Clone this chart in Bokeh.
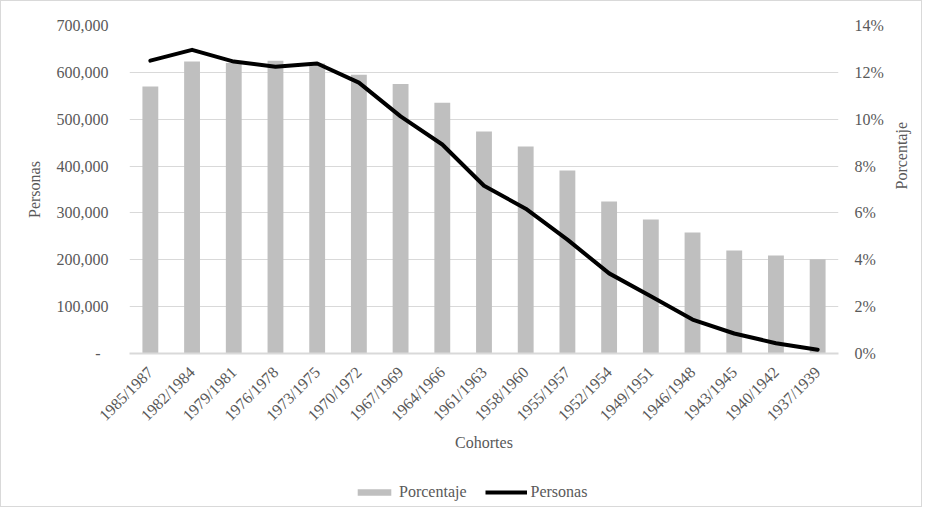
import math
from bokeh.plotting import figure
from bokeh.layouts import column
from bokeh.models import (FactorRange, Range1d, LinearAxis, FixedTicker,
                          NumeralTickFormatter, Legend, LegendItem)
from bokeh.embed import file_html
from bokeh.resources import INLINE

# Datos
cohortes = ["1985/1987", "1982/1984", "1979/1981", "1976/1978", "1973/1975",
            "1970/1972", "1967/1969", "1964/1966", "1961/1963", "1958/1960",
            "1955/1957", "1952/1954", "1949/1951", "1946/1948", "1943/1945",
            "1940/1942", "1937/1939"]
porcentaje = [0.114, 0.1246, 0.124, 0.125, 0.1238, 0.119, 0.115, 0.107, 0.0948,
              0.0884, 0.0781, 0.0649, 0.0572, 0.0516, 0.0440, 0.0418, 0.0402]
personas = [625000, 648000, 623000, 612000, 619000, 578000, 506000, 446000,
            358000, 309000, 243000, 171000, 122000, 72500, 42700, 22000, 8000]
ticks_personas = [0, 100000, 200000, 300000, 400000, 500000, 600000, 700000]
ticks_pct = [0, 0.02, 0.04, 0.06, 0.08, 0.10, 0.12, 0.14]

FONT = "Liberation Serif"
TXT = "#595959"
GRID = "#d9d9d9"
BAR = "#bfbfbf"

p = figure(width=920, height=476, x_range=FactorRange(factors=cohortes),
           y_range=Range1d(0, 700000), output_backend="svg",
           toolbar_location=None, min_border_left=128, min_border_right=81,
           min_border_top=24, min_border_bottom=124)
p.extra_y_ranges = {"pct": Range1d(0, 0.14)}
p.outline_line_color = None

p.vbar(x=cohortes, top=porcentaje, width=0.38, y_range_name="pct",
       fill_color=BAR, line_color=None)
p.line(x=cohortes, y=personas, line_color="black", line_width=4,
       line_join="round", line_cap="round")

# Eje izquierdo
ya = p.yaxis[0]
ya.ticker = FixedTicker(ticks=ticks_personas)
ya.formatter = NumeralTickFormatter(format="0,0")
ya.major_label_overrides = {0: "-\u00a0\u00a0"}
ya.axis_label = "Personas"
ya.major_label_standoff = 15
ya.axis_label_standoff = 11

# Eje derecho
yr = LinearAxis(y_range_name="pct", ticker=FixedTicker(ticks=ticks_pct),
                formatter=NumeralTickFormatter(format="0%"),
                axis_label="Porcentaje")
if "axis_label_orientation" in yr.properties():
    yr.axis_label_orientation = math.pi / 2
yr.major_label_standoff = 10
yr.axis_label_standoff = 15
p.add_layout(yr, "right")

for ax in [ya, yr]:
    ax.axis_line_color = None
    ax.major_tick_line_color = None
    ax.minor_tick_line_color = None

xa = p.xaxis[0]
xa.axis_label = "Cohortes"
xa.axis_line_color = GRID
xa.axis_line_width = 2
xa.major_tick_line_color = None
xa.minor_tick_line_color = None
xa.major_label_orientation = math.pi / 4
xa.major_label_standoff = 10
xa.axis_label_standoff = 1

for ax in [ya, yr, xa]:
    ax.major_label_text_font = FONT
    ax.major_label_text_font_size = "16px"
    ax.major_label_text_color = TXT
    ax.axis_label_text_font = FONT
    ax.axis_label_text_font_size = "16px"
    ax.axis_label_text_color = TXT
    ax.axis_label_text_font_style = "normal"

p.xgrid.grid_line_color = None
p.ygrid.grid_line_color = GRID
p.ygrid.grid_line_width = 1
p.ygrid[0].ticker = FixedTicker(ticks=ticks_personas)

# Leyenda en una franja aparte, debajo del grafico
# (renderers ocultos, solo sirven de muestra para la leyenda)
pl = figure(width=920, height=29, x_range=FactorRange(factors=cohortes),
            y_range=Range1d(0, 1), output_backend="svg",
            toolbar_location=None, min_border=0)
pl.axis.visible = False
pl.grid.visible = False
pl.outline_line_color = None
muestra_barra = pl.vbar(x=cohortes, top=porcentaje, width=0.38,
                        fill_color=BAR, line_color=None, visible=False)
muestra_linea = pl.line(x=cohortes, y=personas, line_color="black",
                        line_width=4, visible=False)

legend = Legend(items=[LegendItem(label="Porcentaje", renderers=[muestra_barra]),
                       LegendItem(label="Personas", renderers=[muestra_linea])],
                orientation="horizontal", location=(224, 5),
                border_line_color=None, background_fill_alpha=0,
                inactive_fill_alpha=0,
                padding=0, margin=0, spacing=18, glyph_width=42,
                glyph_height=8, label_standoff=4, label_height=16,
                label_text_font=FONT, label_text_font_size="16px",
                label_text_color=TXT)
pl.add_layout(legend, "center")

layout = column(p, pl, spacing=0)
layout.styles = {"border": "1px solid #d9d9d9"}

open("out.html", "w").write(file_html(layout, INLINE))
